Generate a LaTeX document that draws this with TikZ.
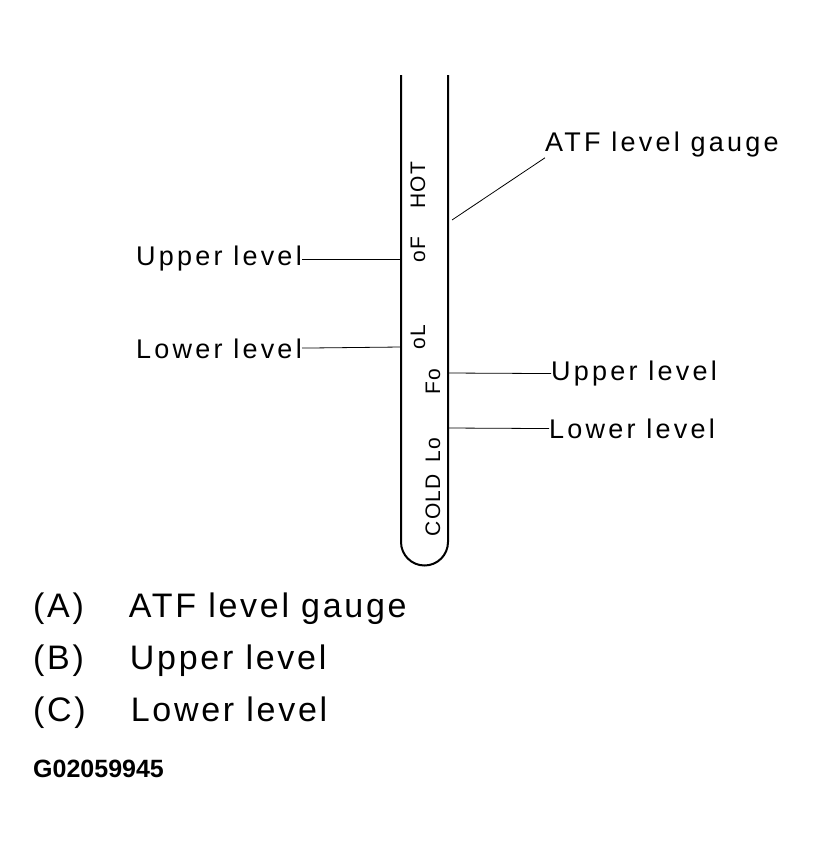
\documentclass[tikz,border=0pt]{standalone}
\usepackage{fontspec}
\setmainfont{Liberation Sans}
\begin{document}
\begin{tikzpicture}[x=1pt,y=-1pt,
 lbl/.style={font=\fontsize{27}{27}\selectfont\addfontfeature{LetterSpace=12},inner sep=0pt},
 leg/.style={font=\fontsize{34}{34}\selectfont\addfontfeature{LetterSpace=8},inner sep=0pt,anchor=west},
 gt/.style={font=\fontsize{21}{21}\selectfont\addfontfeature{LetterSpace=6},inner sep=0pt,rotate=90},
 ln/.style={line width=0.8pt}]
\useasboundingbox (0,0) rectangle (823,851);
\draw[line width=2pt] (401,75) -- (401,542) arc[start angle=180,end angle=0,radius=23.5] -- (448,75);
\node[gt] (hot) at (418,185) {HOT};
\node[gt] (of) at (418,250) {oF};
\node[gt] (ol) at (418,337) {oL};
\node[gt] (fo) at (433,382) {Fo};
\node[gt] (lo) at (433,450) {Lo};
\node[gt] (cold) at (433,505) {COLD};
\node[lbl,anchor=west] (atf) at (545,145) {ATF level gauge};
\coordinate (ga) at (452,220);
\draw[ln] (ga) -- (atf.south west);
\node[lbl,anchor=east] (u1) at (302,259) {Upper level};
\coordinate (u1e) at (401,259);
\draw[ln] (u1) -- (u1e);
\node[lbl,anchor=east] (l1) at (302,349) {Lower level};
\coordinate (l1e) at (401,347);
\draw[ln] (l1) -- (l1e);
\node[lbl,anchor=west] (u2) at (551,374) {Upper level};
\coordinate (u2e) at (448,373);
\draw[ln] (u2e) -- (u2);
\node[lbl,anchor=west] (l2) at (549,429) {Lower level};
\coordinate (l2e) at (448,428);
\draw[ln] (l2e) -- (l2);
\node[leg] (a) at (33,609) {(A)\hspace{45pt}ATF level gauge};
\node[leg] (b) at (33,661) {(B)\hspace{46pt}Upper level};
\node[leg] (c) at (33,713) {(C)\hspace{45pt}Lower level};
\node[anchor=west,inner sep=0pt,font=\bfseries\fontsize{25}{25}\selectfont] (g) at (33,769) {G02059945};
\end{tikzpicture}
\end{document}
